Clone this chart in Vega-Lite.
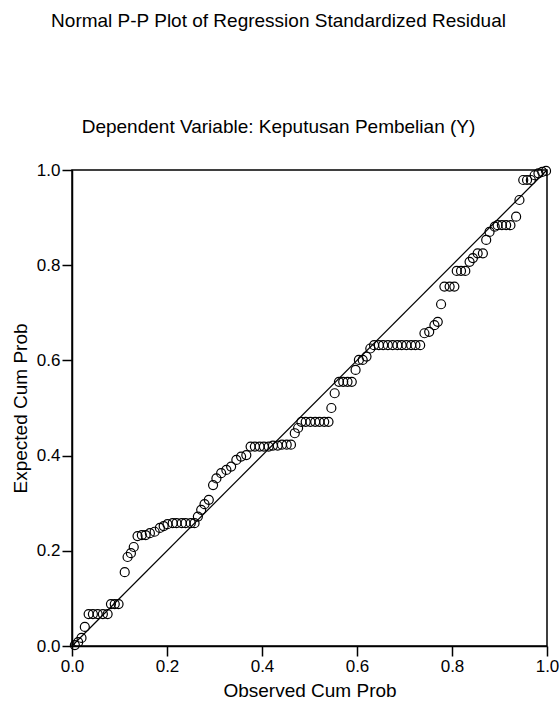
{
  "$schema": "https://vega.github.io/schema/vega-lite/v6.json",
  "width": 475,
  "height": 476,
  "autosize": {"type": "none"},
  "padding": {"left": 72, "top": 170, "right": 13, "bottom": 62},
  "background": "white",
  "title": {
    "text": "Normal P-P Plot of Regression Standardized Residual",
    "subtitle": "Dependent Variable: Keputusan Pembelian (Y)",
    "anchor": "middle",
    "frame": "group",
    "dx": -31,
    "offset": 24,
    "subtitlePadding": 87,
    "font": "Liberation Sans",
    "fontSize": 19,
    "fontWeight": "normal",
    "color": "black",
    "subtitleFont": "Liberation Sans",
    "subtitleFontSize": 19,
    "subtitleColor": "black"
  },
  "config": {
    "view": {"stroke": "black", "strokeWidth": 1.5},
    "axis": {
      "grid": false,
      "domainColor": "black",
      "domainWidth": 1.5,
      "tickColor": "black",
      "tickWidth": 1.5,
      "tickSize": 10,
      "labelFont": "Liberation Sans",
      "labelFontSize": 17,
      "labelColor": "black",
      "labelPadding": 2,
      "titleFont": "Liberation Sans",
      "titleFontSize": 19,
      "titleFontWeight": "normal",
      "titleColor": "black"
    }
  },
  "datasets": {
    "ref": [{"x": 0, "y": 0}, {"x": 1, "y": 1}],
    "pts": [
      {"x": 0.006, "y": 0.002}, {"x": 0.013, "y": 0.008}, {"x": 0.020, "y": 0.017}, {"x": 0.027, "y": 0.040},
      {"x": 0.035, "y": 0.067}, {"x": 0.044, "y": 0.067}, {"x": 0.054, "y": 0.067}, {"x": 0.065, "y": 0.067}, {"x": 0.075, "y": 0.067},
      {"x": 0.082, "y": 0.088}, {"x": 0.090, "y": 0.088}, {"x": 0.098, "y": 0.088},
      {"x": 0.111, "y": 0.155},
      {"x": 0.117, "y": 0.187}, {"x": 0.124, "y": 0.195}, {"x": 0.130, "y": 0.208},
      {"x": 0.138, "y": 0.231}, {"x": 0.147, "y": 0.233}, {"x": 0.155, "y": 0.233}, {"x": 0.164, "y": 0.237}, {"x": 0.174, "y": 0.240}, {"x": 0.185, "y": 0.248}, {"x": 0.193, "y": 0.252}, {"x": 0.201, "y": 0.256}, {"x": 0.212, "y": 0.258}, {"x": 0.220, "y": 0.258}, {"x": 0.231, "y": 0.258}, {"x": 0.239, "y": 0.258}, {"x": 0.250, "y": 0.258}, {"x": 0.258, "y": 0.258},
      {"x": 0.265, "y": 0.272}, {"x": 0.272, "y": 0.286}, {"x": 0.279, "y": 0.298}, {"x": 0.288, "y": 0.307},
      {"x": 0.297, "y": 0.338}, {"x": 0.304, "y": 0.352}, {"x": 0.314, "y": 0.363}, {"x": 0.325, "y": 0.370}, {"x": 0.335, "y": 0.377}, {"x": 0.346, "y": 0.391}, {"x": 0.356, "y": 0.398}, {"x": 0.367, "y": 0.401},
      {"x": 0.376, "y": 0.419}, {"x": 0.385, "y": 0.419}, {"x": 0.395, "y": 0.419}, {"x": 0.404, "y": 0.419}, {"x": 0.414, "y": 0.419}, {"x": 0.423, "y": 0.421}, {"x": 0.433, "y": 0.421}, {"x": 0.442, "y": 0.423}, {"x": 0.452, "y": 0.423}, {"x": 0.461, "y": 0.423},
      {"x": 0.469, "y": 0.447}, {"x": 0.476, "y": 0.458},
      {"x": 0.483, "y": 0.471}, {"x": 0.492, "y": 0.471}, {"x": 0.502, "y": 0.471}, {"x": 0.512, "y": 0.471}, {"x": 0.521, "y": 0.471}, {"x": 0.531, "y": 0.471}, {"x": 0.540, "y": 0.471},
      {"x": 0.546, "y": 0.500}, {"x": 0.553, "y": 0.531},
      {"x": 0.562, "y": 0.555}, {"x": 0.571, "y": 0.555}, {"x": 0.580, "y": 0.555}, {"x": 0.589, "y": 0.555},
      {"x": 0.597, "y": 0.580}, {"x": 0.604, "y": 0.601}, {"x": 0.612, "y": 0.601}, {"x": 0.620, "y": 0.608}, {"x": 0.628, "y": 0.625},
      {"x": 0.636, "y": 0.632}, {"x": 0.646, "y": 0.632}, {"x": 0.655, "y": 0.632}, {"x": 0.665, "y": 0.632}, {"x": 0.675, "y": 0.632}, {"x": 0.685, "y": 0.632}, {"x": 0.694, "y": 0.632}, {"x": 0.704, "y": 0.632}, {"x": 0.714, "y": 0.632}, {"x": 0.723, "y": 0.632}, {"x": 0.733, "y": 0.632},
      {"x": 0.742, "y": 0.657}, {"x": 0.752, "y": 0.660}, {"x": 0.763, "y": 0.674}, {"x": 0.770, "y": 0.681},
      {"x": 0.777, "y": 0.718},
      {"x": 0.784, "y": 0.755}, {"x": 0.795, "y": 0.755}, {"x": 0.805, "y": 0.755},
      {"x": 0.810, "y": 0.788}, {"x": 0.819, "y": 0.788}, {"x": 0.828, "y": 0.788},
      {"x": 0.837, "y": 0.807}, {"x": 0.844, "y": 0.815}, {"x": 0.854, "y": 0.825}, {"x": 0.865, "y": 0.825},
      {"x": 0.872, "y": 0.853}, {"x": 0.879, "y": 0.870}, {"x": 0.890, "y": 0.881},
      {"x": 0.896, "y": 0.884}, {"x": 0.905, "y": 0.884}, {"x": 0.914, "y": 0.884}, {"x": 0.923, "y": 0.884},
      {"x": 0.935, "y": 0.902},
      {"x": 0.942, "y": 0.937},
      {"x": 0.950, "y": 0.979}, {"x": 0.958, "y": 0.979}, {"x": 0.966, "y": 0.979},
      {"x": 0.974, "y": 0.989}, {"x": 0.982, "y": 0.993}, {"x": 0.990, "y": 0.996}, {"x": 0.998, "y": 0.998}
    ]
  },
  "layer": [
    {
      "data": {"name": "ref"},
      "mark": {"type": "line", "color": "black", "strokeWidth": 1.2},
      "encoding": {
        "x": {"field": "x", "type": "quantitative"},
        "y": {"field": "y", "type": "quantitative"}
      }
    },
    {
      "data": {"name": "pts"},
      "mark": {"type": "point", "shape": "circle", "filled": false, "color": "black", "size": 81, "strokeWidth": 1.2, "opacity": 1},
      "encoding": {
        "x": {
          "field": "x",
          "type": "quantitative",
          "scale": {"domain": [0, 1], "nice": false},
          "axis": {"values": [0, 0.2, 0.4, 0.6, 0.8, 1.0], "format": ".1f", "labelFlush": false, "title": "Observed Cum Prob", "titlePadding": 7}
        },
        "y": {
          "field": "y",
          "type": "quantitative",
          "scale": {"domain": [0, 1], "nice": false},
          "axis": {"values": [0, 0.2, 0.4, 0.6, 0.8, 1.0], "format": ".1f", "labelFlush": false, "title": "Expected Cum Prob", "titlePadding": 6}
        }
      }
    }
  ]
}
